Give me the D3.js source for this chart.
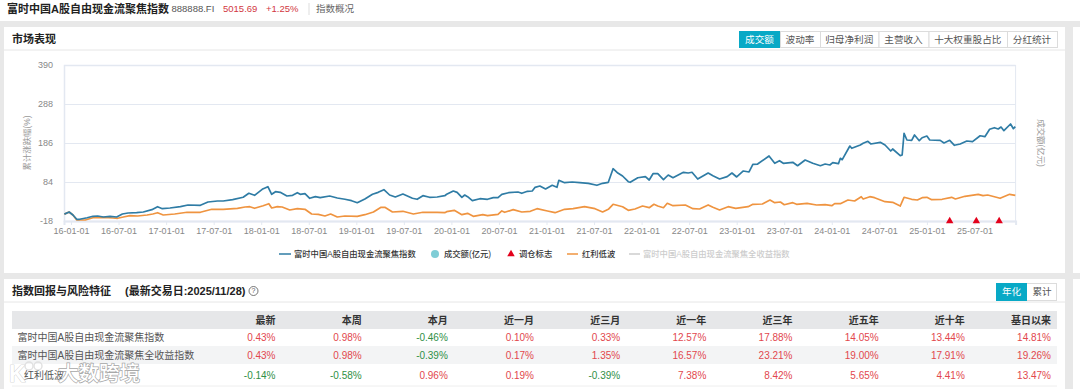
<!DOCTYPE html>
<html>
<head>
<meta charset="utf-8">
<script src="https://cdn.jsdelivr.net/npm/d3@7"></script>
<style>
  html, body { margin: 0; padding: 0; background: #e8e8e8; overflow: hidden; }
  svg { display: block; font-family: "Liberation Sans", "Noto Sans CJK SC", sans-serif; }
</style>
</head>
<body>
<svg id="chart" width="1080" height="389"></svg>
<script>
// chart data: [years since 2016-01-01, cumulative change %]
const fcfPoints = [
  [-0.07,0],[-0.02,5.5],[0.02,-2.3],[0.06,-13.5],[0.09,-13.5],[0.17,-9.4],[0.23,-5.7],[0.28,-4.9],[0.34,-7.5],[0.41,-5.7],
  [0.48,-7.5],[0.54,0.3],[0.6,2.9],[0.69,3.7],[0.76,5.5],[0.85,11.6],[0.91,19.4],[0.96,14.2],[1.04,16],[1.15,19.4],
  [1.23,23.9],[1.36,23.1],[1.44,31.7],[1.54,34.3],[1.6,34.3],[1.7,37.7],[1.81,44],[1.87,54.5],[1.93,49.2],[2.01,64.9],
  [2.07,71.7],[2.11,51.8],[2.15,58.6],[2.2,57],[2.27,47.4],[2.33,49.2],[2.38,56],[2.41,51.8],[2.46,53.4],[2.51,41.4],
  [2.57,45.6],[2.62,43],[2.72,47.4],[2.8,42.2],[2.88,38.8],[2.95,35.1],[3.01,29.9],[3.09,39.5],[3.17,51.8],[3.23,57],
  [3.29,63.9],[3.35,50],[3.41,44.8],[3.49,52.6],[3.59,41.4],[3.64,38.8],[3.7,48.2],[3.77,44],[3.85,44.8],[3.93,48.2],
  [3.95,51.8],[4.02,60.5],[4.06,57],[4.11,44],[4.14,50],[4.17,45.6],[4.22,35.1],[4.3,40.3],[4.38,38.8],[4.44,43],
  [4.49,43],[4.53,51.8],[4.6,56],[4.7,57.9],[4.74,54.5],[4.8,59.7],[4.85,60.5],[4.88,70.1],[4.93,73.5],[4.99,65.7],
  [5.06,75.4],[5.11,70.1],[5.13,88.4],[5.19,82.2],[5.27,84],[5.35,82.2],[5.44,80.6],[5.53,75.4],[5.59,80.6],[5.65,83.2],
  [5.7,118.8],[5.75,107.5],[5.8,99.7],[5.86,84.8],[5.88,83.2],[5.96,95.2],[6.04,97.9],[6.08,89.2],[6.12,105.7],[6.17,105.7],
  [6.23,90],[6.28,102.3],[6.33,95.2],[6.44,109.4],[6.49,107.5],[6.53,109.4],[6.59,91.8],[6.7,107.5],[6.75,100.5],[6.82,91.8],
  [6.9,97.9],[6.95,107.5],[7,97.1],[7.07,112.8],[7.13,110.2],[7.17,130.3],[7.22,131],[7.34,152],[7.4,132.9],[7.45,139.7],
  [7.49,132.9],[7.59,135.5],[7.64,126.6],[7.72,141.5],[7.8,132.9],[7.88,126.6],[7.93,131],[7.98,128.5],[8.01,134.5],[8.07,131.9],
  [8.09,146],[8.11,142.3],[8.19,178.1],[8.21,172.1],[8.3,180.8],[8.33,185.2],[8.38,190.4],[8.41,183.4],[8.51,187.8],[8.56,180.8],
  [8.62,165.1],[8.64,170.3],[8.72,152.8],[8.74,154.6],[8.76,211.4],[8.79,193.8],[8.84,193],[8.87,206.9],[8.92,192],[8.95,199.8],
  [9,204.3],[9.03,193.8],[9.14,193],[9.18,186],[9.24,193],[9.29,180],[9.35,183.4],[9.42,191.2],[9.48,189.4],[9.56,205],
  [9.61,202.5],[9.66,221.8],[9.71,226],[9.75,222.6],[9.78,227.8],[9.81,218.2],[9.88,235.7],[9.91,223.4],[9.93,228.6]
];
const lowVolPoints = [
  [-0.07,0],[-0.02,5.5],[0.02,-2.3],[0.06,-15.4],[0.15,-15.4],[0.23,-9.4],[0.34,-8.3],[0.44,-10.1],[0.49,-10.9],[0.55,-7.5],
  [0.62,-4.1],[0.7,-4.9],[0.8,-2.3],[0.86,0.3],[0.91,3.7],[0.97,-2.3],[1.09,0.3],[1.22,4.8],[1.36,4.8],[1.48,12.6],
  [1.6,12.6],[1.75,15.2],[1.83,18.6],[1.88,19.4],[1.93,15.2],[2.02,22],[2.08,27.3],[2.11,16],[2.17,19.4],[2.22,18.6],
  [2.3,10.8],[2.38,14.2],[2.46,12.6],[2.53,0.3],[2.6,-0.5],[2.67,-4.9],[2.73,0.3],[2.8,-7.5],[2.88,-4.9],[3.01,-5.7],
  [3.09,-1.5],[3.18,5.5],[3.26,17.8],[3.3,17.8],[3.38,5.5],[3.49,7.4],[3.6,0.3],[3.7,4.8],[3.85,4.8],[3.93,3.7],
  [3.95,6.3],[4.03,10],[4.11,-1.5],[4.17,2.1],[4.23,-5.7],[4.33,-1.5],[4.38,-4.1],[4.49,-0.5],[4.53,8.2],[4.56,4.8],
  [4.65,11.6],[4.74,5.5],[4.83,7.4],[4.9,14.2],[5.01,8.2],[5.09,3.7],[5.19,12.6],[5.28,14.2],[5.4,19.4],[5.51,14.2],
  [5.59,5.5],[5.65,12.6],[5.7,25.7],[5.8,19.4],[5.86,10],[5.93,13.4],[6.01,21.2],[6.08,16.8],[6.13,25.7],[6.17,21.2],
  [6.23,16.8],[6.27,28.3],[6.33,22],[6.46,23.9],[6.54,14.2],[6.61,13.4],[6.7,23.9],[6.75,17.8],[6.82,10.8],[6.91,19.4],
  [6.99,15.2],[7.12,19.4],[7.17,25.7],[7.27,26.5],[7.35,36.9],[7.4,29.9],[7.46,31.7],[7.5,24.6],[7.59,29.9],[7.63,25.7],
  [7.74,28.3],[7.84,23.9],[7.93,24.6],[8,22],[8.03,27.3],[8.09,27.3],[8.17,36.9],[8.24,34.3],[8.31,45.6],[8.33,39.5],
  [8.4,45.6],[8.45,43],[8.56,32.5],[8.64,30.9],[8.72,21.2],[8.74,32.5],[8.76,44],[8.84,38.8],[8.9,36.9],[8.95,43],
  [9,44],[9.05,37.7],[9.16,38.8],[9.26,44],[9.3,39.5],[9.4,46.6],[9.54,51.8],[9.59,48.2],[9.64,50],[9.77,41.4],
  [9.87,51.8],[9.93,49.2]
];
const rebalanceTimes = [9.24, 9.52, 9.76];
const yTicks = [-18, 84, 186, 288, 390];
const xTicks = [0, 0.5, 1, 1.5, 2, 2.5, 3, 3.5, 4, 4.5, 5, 5.5, 6, 6.5, 7, 7.5, 8, 8.5, 9, 9.5];
const xTickLabels = ["16-01-01","16-07-01","17-01-01","17-07-01","18-01-01","18-07-01","19-01-01","19-07-01","20-01-01","20-07-01",
  "21-01-01","21-07-01","22-01-01","22-07-01","23-01-01","23-07-01","24-01-01","24-07-01","25-01-01","25-07-01"];

const tabNames = ["成交额","波动率","归母净利润","主营收入","十大权重股占比","分红统计"];
const tabEdges = [739, 780, 820, 878.5, 928.5, 1007, 1057];
const tableHeaders = ["最新","本周","本月","近一月","近三月","近一年","近三年","近五年","近十年","基日以来"];
const rowNames = ["富时中国A股自由现金流聚焦指数","富时中国A股自由现金流聚焦全收益指数","红利低波"];
const row1 = [0.43, 0.98, -0.46, 0.10, 0.33, 12.57, 17.88, 14.05, 13.44, 14.81];
const row2 = [0.43, 0.98, -0.39, 0.17, 1.35, 16.57, 23.21, 19.00, 17.91, 19.26];
const row3 = [-0.14, -0.58, 0.96, 0.19, -0.39, 7.38, 8.42, 5.65, 4.41, 13.47];

const BLUE = "#2f7ca5", ORANGE = "#ef9440", TEAL = "#08a9c6", AXIS = "#e3e8f1";
const svg = d3.select("#chart");

function label(parent, x, y, text, size, color, opts = {}) {
  return parent.append("text")
    .attr("x", x).attr("y", y)
    .attr("dy", "0.35em")
    .attr("font-size", size)
    .attr("fill", color)
    .attr("font-weight", opts.weight || 400)
    .attr("text-anchor", opts.anchor || "start")
    .text(text);
}

// page background blocks
const blocks = [[0,0,1080,21],[4,27,1061,246],[1073,27,7,246],[4,279,1061,110],[1073,279,7,110]];
svg.selectAll(".block").data(blocks).enter().append("rect")
  .attr("class", "block")
  .attr("x", d => d[0]).attr("y", d => d[1]).attr("width", d => d[2]).attr("height", d => d[3])
  .attr("fill", "#fff");
svg.append("line").attr("x1", 4).attr("x2", 1065).attr("y1", 50).attr("y2", 50).attr("stroke", "#e6e6e6");
svg.append("line").attr("x1", 4).attr("x2", 1065).attr("y1", 302).attr("y2", 302).attr("stroke", "#e6e6e6");

// top strip
label(svg, 7, 9, "富时中国A股自由现金流聚焦指数", 11, "#222", { weight: 700 });
label(svg, 171.5, 9, "888888.FI", 9.5, "#555");
label(svg, 223, 9, "5015.69", 9.5, "#d2383f");
label(svg, 266, 9, "+1.25%", 9.5, "#d2383f");
svg.append("line").attr("x1", 309).attr("x2", 309).attr("y1", 3).attr("y2", 15).attr("stroke", "#ddd");
label(svg, 316, 9, "指数概况", 9.5, "#666");

label(svg, 12, 39, "市场表现", 11, "#222", { weight: 700 });

// tab buttons
const tabs = svg.append("g");
tabNames.forEach((name, i) => {
  const x0 = tabEdges[i], x1 = tabEdges[i + 1];
  tabs.append("rect")
    .attr("x", x0 + 0.5).attr("y", 31.5).attr("width", x1 - x0).attr("height", 16)
    .attr("fill", i === 0 ? TEAL : "#fff")
    .attr("stroke", i === 0 ? TEAL : "#dcdcdc");
  label(tabs, (x0 + x1) / 2, 39.5, name, 9.6, i === 0 ? "#fff" : "#555", { anchor: "middle" });
});

// main chart
const margin = { top: 65, right: 64.4, bottom: 168, left: 64 };
const x = d3.scaleLinear().domain([-0.074, 9.933]).range([margin.left, 1080 - margin.right]);
const y = d3.scaleLinear().domain([-18, 390]).range([389 - margin.bottom, margin.top]);

const yAxis = svg.append("g")
  .attr("transform", `translate(${margin.left},0)`)
  .call(d3.axisLeft(y)
    .tickValues(yTicks)
    .tickFormat(d => String(d))
    .tickSize(-(x.range()[1] - x.range()[0]))
    .tickPadding(11));
yAxis.select(".domain").attr("stroke", AXIS).attr("stroke-width", 1.5);
yAxis.selectAll(".tick line").attr("stroke", AXIS);
yAxis.selectAll(".tick text").attr("fill", "#888").attr("font-size", 9).attr("font-family", null);

svg.append("line")
  .attr("x1", x.range()[1]).attr("x2", x.range()[1])
  .attr("y1", y(390)).attr("y2", y(-18))
  .attr("stroke", AXIS);

const xAxis = svg.append("g")
  .attr("transform", `translate(0,${y(-18)})`)
  .call(d3.axisBottom(x)
    .tickValues(xTicks)
    .tickFormat((d, i) => xTickLabels[i])
    .tickSizeOuter(0)
    .tickSize(4)
    .tickPadding(3));
xAxis.select(".domain").attr("stroke", AXIS).attr("stroke-width", 2);
xAxis.selectAll(".tick line").attr("stroke", AXIS);
xAxis.selectAll(".tick text").attr("fill", "#888").attr("font-size", 9).attr("font-family", null);

svg.append("text")
  .attr("transform", "translate(27,143) rotate(-90)")
  .attr("text-anchor", "middle").attr("dy", "0.35em")
  .attr("font-size", 8.4).attr("fill", "#999")
  .text("累计涨跌幅(%)");
svg.append("text")
  .attr("transform", "translate(1041,143) rotate(90)")
  .attr("text-anchor", "middle").attr("dy", "0.35em")
  .attr("font-size", 8.4).attr("fill", "#999")
  .text("成交额(亿元)");

const line = d3.line().x(d => x(d[0])).y(d => y(d[1]));

svg.append("path").datum(lowVolPoints)
  .attr("fill", "none").attr("stroke", ORANGE).attr("stroke-width", 1.7).attr("stroke-linejoin", "round")
  .attr("d", line);
svg.append("path").datum(fcfPoints)
  .attr("fill", "none").attr("stroke", BLUE).attr("stroke-width", 1.7).attr("stroke-linejoin", "round")
  .attr("d", line);

svg.selectAll(".rebalance").data(rebalanceTimes).enter().append("path")
  .attr("class", "rebalance")
  .attr("d", d3.symbol(d3.symbolTriangle, 24))
  .attr("transform", d => `translate(${x(d)},${y(-18)})`)
  .attr("fill", "#e3001b");

// legend
const legend = svg.append("g");
const legendY = 254;
function legendLine(x0, x1, color) {
  legend.append("line").attr("x1", x0).attr("x2", x1).attr("y1", legendY).attr("y2", legendY)
    .attr("stroke", color).attr("stroke-width", 1.5);
}
legendLine(279, 291, BLUE);
label(legend, 294, legendY, "富时中国A股自由现金流聚焦指数", 8.3, "#333", { weight: 500 });
legend.append("circle").attr("cx", 435).attr("cy", legendY).attr("r", 4).attr("fill", "#7fcdd6");
label(legend, 444, legendY, "成交额(亿元)", 8.3, "#333", { weight: 500 });
legend.append("path").attr("d", d3.symbol(d3.symbolTriangle, 24))
  .attr("transform", `translate(511,${legendY})`).attr("fill", "#e3001b");
label(legend, 519, legendY, "调仓标志", 8.3, "#333", { weight: 500 });
legendLine(567, 578, ORANGE);
label(legend, 582, legendY, "红利低波", 8.3, "#333", { weight: 500 });
legendLine(629, 640, "#ccc");
label(legend, 643, legendY, "富时中国A股自由现金流聚焦全收益指数", 8.3, "#ccc", { weight: 500 });

// returns table
label(svg, 12, 291, "指数回报与风险特征", 11, "#222", { weight: 700 });
label(svg, 125, 291, "(最新交易日:2025/11/28)", 11, "#222", { weight: 700 });
svg.append("circle").attr("cx", 253.5).attr("cy", 291).attr("r", 4.5)
  .attr("fill", "none").attr("stroke", "#555").attr("stroke-width", 0.8);
label(svg, 253.5, 291, "?", 7, "#555", { anchor: "middle" });

svg.append("rect").attr("x", 996.5).attr("y", 283.5).attr("width", 60).attr("height", 17)
  .attr("fill", "#fff").attr("stroke", "#dcdcdc");
svg.append("rect").attr("x", 996).attr("y", 283).attr("width", 31).attr("height", 18).attr("fill", TEAL);
label(svg, 1011.5, 292, "年化", 9.6, "#fff", { anchor: "middle" });
label(svg, 1042, 292, "累计", 9.6, "#555", { anchor: "middle" });

svg.append("rect").attr("x", 12).attr("y", 311).attr("width", 1045).attr("height", 18).attr("fill", "#e6e7e9");
svg.append("rect").attr("x", 12).attr("y", 346).attr("width", 1045).attr("height", 18).attr("fill", "#f3f4f5");
svg.append("line").attr("x1", 12).attr("x2", 1057).attr("y1", 386).attr("y2", 386).attr("stroke", "#eee");

const colX = d3.scaleLinear().domain([0, tableHeaders.length - 1]).range([275.5, 1051]);
tableHeaders.forEach((h, i) => {
  label(svg, colX(i), 320, h, 10, "#333", { anchor: "end", weight: 700 });
});

const rows = [row1, row2, row3];
const rowY = [337.7, 355.3, 375];
rows.forEach((values, r) => {
  label(svg, r === 2 ? 24 : 17.5, rowY[r], rowNames[r], 10, "#555");
  values.forEach((v, i) => {
    label(svg, colX(i), rowY[r], v.toFixed(2) + "%", 10, v < 0 ? "#2f8f46" : "#e2474d", { anchor: "end" });
  });
});

// watermark
const mark = svg.append("g").attr("opacity", 0.85);
mark.append("text").attr("x", 9).attr("y", 382).attr("font-size", 23).attr("fill", "#fff")
  .attr("stroke", "#aaa").attr("stroke-width", 0.6).attr("paint-order", "stroke").attr("font-weight", 700).text("K");
mark.append("circle").attr("cx", 29).attr("cy", 366).attr("r", 4).attr("fill", "none").attr("stroke", "#ddd").attr("stroke-width", 1.5);
mark.append("circle").attr("cx", 38).attr("cy", 366).attr("r", 4).attr("fill", "none").attr("stroke", "#ddd").attr("stroke-width", 1.5);
mark.append("text").attr("x", 58).attr("y", 381).attr("font-size", 20.5).attr("fill", "#fff")
  .attr("stroke", "#999").attr("stroke-width", 1.4).attr("paint-order", "stroke").attr("font-weight", 500).text("大数跨境");
</script>
</body>
</html>
